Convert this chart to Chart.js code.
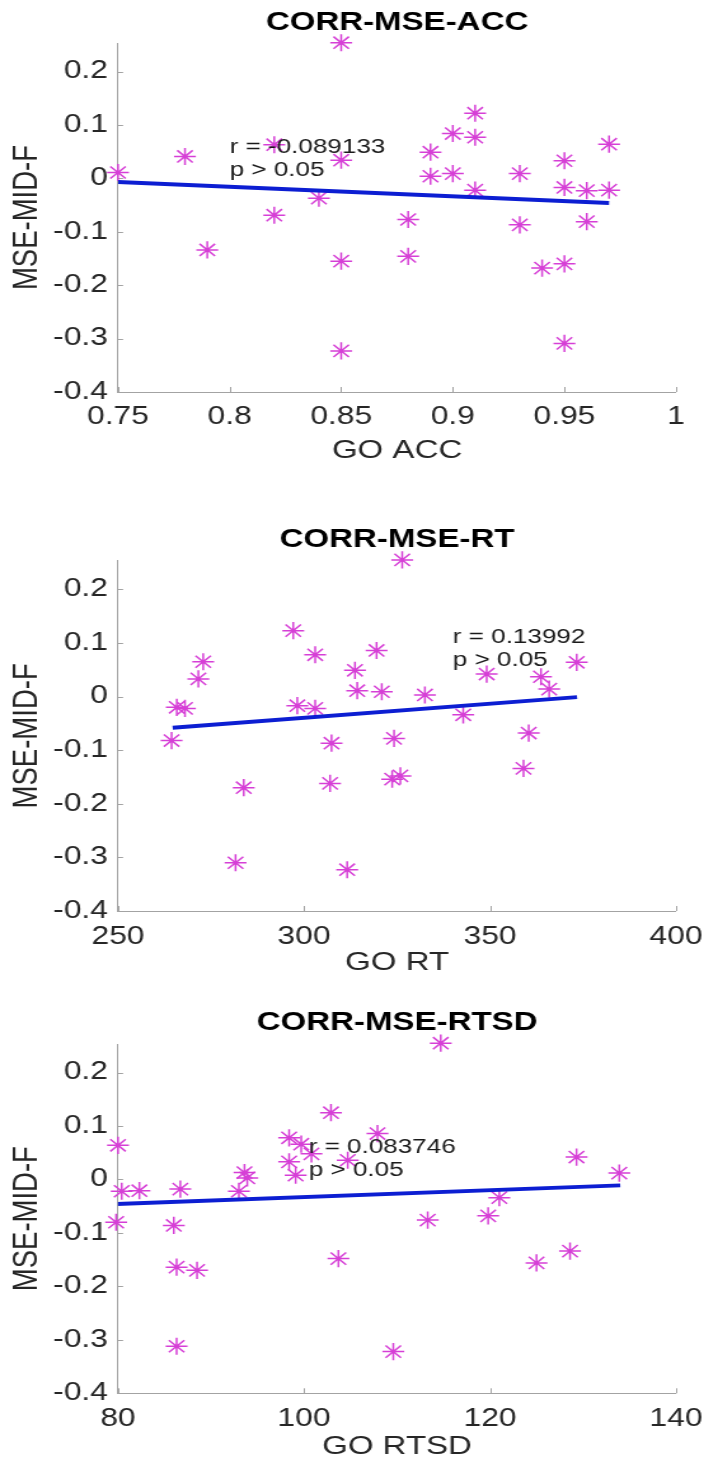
<!DOCTYPE html>
<html>
<head>
<meta charset="utf-8">
<script src="https://cdn.jsdelivr.net/npm/chart.js@4.4.1/dist/chart.umd.min.js"></script>
<style>
  html, body { margin: 0; padding: 0; background: #fff; overflow: hidden; }
  body { width: 704px; height: 1468px; position: relative; }
  /* figure was exported wider than drawn: stretch each panel horizontally */
  .panel { position: absolute; left: 0; width: 554px; transform-origin: 0 0; transform: scaleX(1.2708); }
  .panel canvas { display: block; }
</style>
</head>
<body>
<div class="panel" style="top:0px"><canvas id="chart-acc" width="554" height="475"></canvas></div>
<div class="panel" style="top:500px"><canvas id="chart-rt" width="554" height="480"></canvas></div>
<div class="panel" style="top:985px"><canvas id="chart-rtsd" width="554" height="483"></canvas></div>
<script>
// ============================================
// MSE-MID-F vs GO task measures (one star per subject)
// ============================================

const yTicks = [-0.4, -0.3, -0.2, -0.1, 0, 0.1, 0.2];
const yMin = -0.4;
const yMax = 0.2535;

// GO accuracy
const accTicks = [0.75, 0.8, 0.85, 0.9, 0.95, 1];
const accX = [0.75, 0.78, 0.79, 0.82, 0.82, 0.84, 0.85, 0.85, 0.85, 0.85,
  0.88, 0.88, 0.89, 0.89, 0.90, 0.90, 0.91, 0.91, 0.91, 0.93,
  0.93, 0.94, 0.95, 0.95, 0.95, 0.95, 0.96, 0.96, 0.97, 0.97];
const accMse = [0.011, 0.041, -0.134, 0.063, -0.069, -0.037, 0.254, 0.034, -0.155, -0.323,
  -0.077, -0.146, 0.049, 0.004, 0.084, 0.009, 0.122, 0.077, -0.022, 0.009,
  -0.087, -0.168, 0.033, -0.017, -0.160, -0.309, -0.023, -0.081, 0.064, -0.022];
const accFitX = [0.75, 0.97];
const accFitY = [-0.007, -0.046];
const accStats = ['r = -0.089133', 'p > 0.05'];

// GO reaction time
const rtTicks = [250, 300, 350, 400];
const rtX = [326.4, 297.1, 303.0, 319.5, 313.7, 314.3, 320.9, 332.5, 349.1, 363.7,
  365.9, 373.3, 272.9, 271.6, 265.8, 268.0, 298.2, 303.0, 342.8, 264.4,
  307.4, 324.2, 360.4, 283.8, 307.0, 323.7, 325.9, 359.0, 281.6, 311.6];
const rtMse = [0.255, 0.123, 0.078, 0.086, 0.049, 0.011, 0.009, 0.003, 0.042, 0.037,
  0.014, 0.064, 0.065, 0.033, -0.020, -0.022, -0.017, -0.022, -0.034, -0.082,
  -0.087, -0.078, -0.068, -0.170, -0.162, -0.154, -0.148, -0.134, -0.310, -0.323];
const rtFitX = [264.7, 373.4];
const rtFitY = [-0.058, -0.001];
const rtStats = ['r = 0.13992', 'p > 0.05'];

// GO reaction time SD
const rtsdTicks = [80, 100, 120, 140];
const rtsdX = [114.7, 102.9, 107.9, 80.0, 98.4, 99.7, 100.8, 98.4, 99.1, 104.7,
  93.6, 93.9, 93.0, 80.4, 82.3, 86.7, 121.0, 129.3, 133.9, 79.8,
  86.0, 113.3, 119.8, 86.3, 88.5, 103.7, 125.0, 128.6, 86.3, 109.6];
const rtsdMse = [0.255, 0.125, 0.086, 0.064, 0.078, 0.066, 0.048, 0.033, 0.008, 0.036,
  0.013, 0.003, -0.022, -0.022, -0.021, -0.018, -0.034, 0.042, 0.012, -0.080,
  -0.086, -0.076, -0.068, -0.164, -0.170, -0.148, -0.156, -0.134, -0.312, -0.322];
const rtsdFitX = [79.8, 134.0];
const rtsdFitY = [-0.046, -0.011];
const rtsdStats = ['r = 0.083746', 'p > 0.05'];

const FONT = "'Liberation Sans', Arial, Helvetica, sans-serif";
const AXIS_GREY = '#a3a3a3';
const TEXT = '#262626';
const STAR = '#d63fd6';
const FIT_BLUE = '#0c1ed2';

// bold title centred over the plot area
const panelTitle = {
  id: 'panelTitle',
  afterDraw(chart, args, opts) {
    const { ctx, chartArea } = chart;
    ctx.save();
    ctx.font = 'bold 26px ' + FONT;
    ctx.fillStyle = '#000';
    ctx.textAlign = 'center';
    ctx.textBaseline = 'middle';
    ctx.fillText(opts.text, (chartArea.left + chartArea.right) / 2, opts.y);
    ctx.restore();
  }
};

// short tick marks pointing into the plot
const innerTicks = {
  id: 'innerTicks',
  beforeDatasetsDraw(chart) {
    const { ctx, chartArea, scales: { x, y } } = chart;
    ctx.save();
    ctx.strokeStyle = AXIS_GREY;
    ctx.lineWidth = 1;
    ctx.beginPath();
    x.ticks.forEach(t => {
      const px = Math.round(x.getPixelForValue(t.value)) + 0.5;
      ctx.moveTo(px, chartArea.bottom);
      ctx.lineTo(px, chartArea.bottom - 5);
    });
    y.ticks.forEach(t => {
      const py = Math.round(y.getPixelForValue(t.value)) + 0.5;
      ctx.moveTo(chartArea.left, py);
      ctx.lineTo(chartArea.left + 4, py);
    });
    ctx.stroke();
    ctx.restore();
  }
};

// r / p text placed in data coordinates
const statText = {
  id: 'statText',
  afterDatasetsDraw(chart, args, opts) {
    const { ctx, scales: { x, y } } = chart;
    const px = x.getPixelForValue(opts.x);
    const py = y.getPixelForValue(opts.y);
    ctx.save();
    ctx.font = '20.5px ' + FONT;
    ctx.fillStyle = '#1a1a1a';
    ctx.textAlign = 'left';
    ctx.textBaseline = 'middle';
    opts.lines.forEach((s, i) => {
      ctx.fillText(s, px, py + (i - (opts.lines.length - 1) / 2) * 22.6);
    });
    ctx.restore();
  }
};

function makePanel(p) {
  const canvas = document.getElementById(p.id);
  const H = canvas.height;
  const points = p.xs.map((v, i) => ({ x: v, y: p.ys[i] }));
  const fit = p.fitX.map((v, i) => ({ x: v, y: p.fitY[i] }));

  return new Chart(canvas.getContext('2d'), {
    type: 'scatter',
    data: {
      datasets: [
        {
          data: fit,
          showLine: true,
          borderColor: FIT_BLUE,
          borderWidth: 4,
          pointRadius: 0,
          fill: false
        },
        {
          data: points,
          pointStyle: 'star',
          pointRadius: 8.6,
          pointBorderWidth: 1.5,
          pointBorderColor: STAR,
          pointBackgroundColor: STAR,
          clip: false
        }
      ]
    },
    options: {
      responsive: false,
      animation: false,
      events: [],
      layout: { padding: { top: p.plotTop, right: 22.03, left: 0, bottom: 0 } },
      scales: {
        x: {
          type: 'linear',
          min: p.ticks[0],
          max: p.ticks[p.ticks.length - 1],
          afterBuildTicks: s => { s.ticks = p.ticks.map(v => ({ value: v })); },
          afterFit: s => { s.height = H - p.plotBottom; s.paddingLeft = 0; s.paddingRight = 0; },
          grid: { display: false, drawTicks: false },
          border: { display: true, color: AXIS_GREY, width: 1 },
          ticks: {
            color: TEXT, font: { family: FONT, size: 25 }, padding: p.tickPad,
            maxRotation: 0, autoSkip: false, callback: v => String(v)
          },
          title: {
            display: true, text: p.xTitle, color: TEXT,
            font: { family: FONT, size: 26 }, padding: { top: 0, bottom: p.xTitlePad }
          }
        },
        y: {
          type: 'linear',
          min: yMin,
          max: yMax,
          afterBuildTicks: s => { s.ticks = yTicks.map(v => ({ value: v })); },
          afterFit: s => { s.width = 92.85; s.paddingTop = 0; s.paddingBottom = 0; },
          grid: { display: false, drawTicks: false },
          border: { display: true, color: AXIS_GREY, width: 1 },
          ticks: {
            color: TEXT, font: { family: FONT, size: 25 }, padding: 7.9,
            autoSkip: false, callback: v => String(v)
          },
          title: {
            display: true, text: 'MSE-MID-F', color: TEXT,
            font: { family: FONT, size: 27.5 }, padding: { top: 4.75, bottom: 0 }
          }
        }
      },
      plugins: {
        legend: { display: false },
        tooltip: { enabled: false },
        panelTitle: { text: p.title, y: p.titleY },
        statText: { x: p.statX, y: p.statY, lines: p.stats }
      }
    },
    plugins: [panelTitle, innerTicks, statText]
  });
}

makePanel({
  id: 'chart-acc', title: 'CORR-MSE-ACC', xTitle: 'GO ACC',
  xs: accX, ys: accMse, fitX: accFitX, fitY: accFitY, ticks: accTicks,
  stats: accStats, statX: 0.8, statY: 0.037,
  titleY: 22.5, plotTop: 43, plotBottom: 392, tickPad: 9.7, xTitlePad: 8.4
});

makePanel({
  id: 'chart-rt', title: 'CORR-MSE-RT', xTitle: 'GO RT',
  xs: rtX, ys: rtMse, fitX: rtFitX, fitY: rtFitY, ticks: rtTicks,
  stats: rtStats, statX: 340, statY: 0.089,
  titleY: 40, plotTop: 60.7, plotBottom: 411, tickPad: 10.7, xTitlePad: 1.4
});

makePanel({
  id: 'chart-rtsd', title: 'CORR-MSE-RTSD', xTitle: 'GO RTSD',
  xs: rtsdX, ys: rtsdMse, fitX: rtsdFitX, fitY: rtsdFitY, ticks: rtsdTicks,
  stats: rtsdStats, statX: 100.5, statY: 0.039,
  titleY: 38.3, plotTop: 59, plotBottom: 408.3, tickPad: 10.7, xTitlePad: 5.7
});
</script>
</body>
</html>
